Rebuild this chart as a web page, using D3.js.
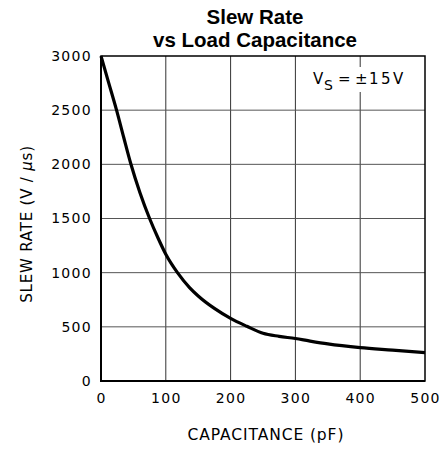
<!DOCTYPE html>
<html>
<head>
<meta charset="utf-8">
<script src="https://cdn.jsdelivr.net/npm/d3@7"></script>
<style>
  html, body { margin: 0; padding: 0; background: #fff; }
  svg { display: block; }
</style>
</head>
<body>
<svg id="chart" width="445" height="450"></svg>
<script>
// ---- data ----
const capacitance = [0, 12, 24, 35, 46, 60, 75, 88, 100, 118, 137, 150, 175, 200, 225, 250, 275, 300, 321, 350, 400, 450, 500];
const slewRate    = [3000, 2750, 2500, 2250, 2005, 1740, 1500, 1320, 1170, 1000, 860, 785, 670, 578, 505, 440, 412, 392, 370, 342, 308, 285, 262];
const xTicks = [0, 100, 200, 300, 400, 500];
const yTicks = [0, 500, 1000, 1500, 2000, 2500, 3000];
const titleLines = ["Slew Rate", "vs Load Capacitance"];
const xTitle = "CAPACITANCE (pF)";
const yTitleParts = ["SLEW RATE (V / ", "\u03BC", "s)"];

(function () {
const svg = d3.select("#chart");
const mLeft = 101, mRight = 425, mTop = 56, mBottom = 381;

const x = d3.scaleLinear().domain([0, 500]).range([mLeft, mRight]);
const y = d3.scaleLinear().domain([0, 3000]).range([mBottom, mTop]);

// title (one text element, two lines)
const title = svg.append("text")
  .attr("text-anchor", "middle")
  .attr("font-family", "'Liberation Sans', Arial, sans-serif")
  .attr("font-weight", "bold")
  .attr("font-size", 20.5)
  .attr("fill", "#000");
title.selectAll("tspan").data(titleLines).join("tspan")
  .attr("x", 255)
  .attr("y", (d, i) => 23.5 + i * 23)
  .text(d => d);

// grid
const grid = svg.append("g");
grid.selectAll("line.v").data(xTicks.slice(1, -1)).join("line")
  .attr("x1", d => x(d)).attr("x2", d => x(d))
  .attr("y1", mTop).attr("y2", mBottom)
  .attr("stroke", "#333").attr("stroke-width", 1);
grid.selectAll("line.h").data(yTicks.slice(1, -1)).join("line")
  .attr("x1", mLeft).attr("x2", mRight)
  .attr("y1", d => y(d)).attr("y2", d => y(d))
  .attr("stroke", "#555").attr("stroke-width", 1);

// annotation with white background
const ann = svg.append("g").attr("font-family", "'DejaVu Sans', sans-serif").attr("fill", "#000");
ann.append("rect").attr("x", 310).attr("y", 67).attr("width", 100).attr("height", 25).attr("fill", "#fff");
ann.append("text").attr("x", 313).attr("y", 84).attr("font-size", 15).text("V");
ann.append("text").attr("x", 324).attr("y", 90).attr("font-size", 14).text("S");
ann.append("text").attr("x", 338).attr("y", 84).attr("font-size", 15).text("=");
ann.append("text").attr("x", 355).attr("y", 84).attr("font-size", 15).text("\u00B1");
ann.append("text").attr("x", 369).attr("y", 84).attr("font-size", 15).attr("letter-spacing", 2.5).text("15V");

// axes
const xAxis = d3.axisBottom(x).tickValues(xTicks).tickSize(0).tickPadding(12).tickFormat(d3.format("d"));
const yAxis = d3.axisLeft(y).tickValues(yTicks).tickSize(0).tickPadding(9).tickFormat(d3.format("d"));

const gx = svg.append("g").attr("transform", `translate(0,${mBottom})`).call(xAxis);
const gy = svg.append("g").attr("transform", `translate(${mLeft},0)`).call(yAxis);
[gx, gy].forEach(g => {
  g.select(".domain").remove();
  g.selectAll("text")
    .attr("font-family", "'DejaVu Sans', sans-serif")
    .attr("font-size", 14)
    .attr("letter-spacing", 1.3)
    .attr("fill", "#000");
});
gx.selectAll("text").attr("dy", "0.71em");

// frame
svg.append("rect")
  .attr("x", mLeft).attr("y", mTop)
  .attr("width", mRight - mLeft).attr("height", mBottom - mTop)
  .attr("fill", "none").attr("stroke", "#000").attr("stroke-width", 1.5);
svg.append("path")
  .attr("d", `M${mLeft},${mTop}V${mBottom}H${mRight}`)
  .attr("fill", "none").attr("stroke", "#000").attr("stroke-width", 2);

// curve
const data = capacitance.map((c, i) => [c, slewRate[i]]);
svg.append("path")
  .datum(data)
  .attr("fill", "none")
  .attr("stroke", "#000")
  .attr("stroke-width", 3.2)
  .attr("stroke-linejoin", "round")
  .attr("d", d3.line().x(d => x(d[0])).y(d => y(d[1])).curve(d3.curveMonotoneX));

// axis titles
svg.append("text")
  .attr("x", 266).attr("y", 440)
  .attr("text-anchor", "middle")
  .attr("font-family", "'DejaVu Sans', sans-serif")
  .attr("font-size", 15.5)
  .attr("letter-spacing", 0.9)
  .attr("fill", "#000")
  .text(xTitle);

const yt = svg.append("text")
  .attr("transform", `translate(32,224) rotate(-90)`)
  .attr("text-anchor", "middle")
  .attr("font-family", "'DejaVu Sans', sans-serif")
  .attr("font-size", 15)
  .attr("letter-spacing", 0.8)
  .attr("fill", "#000");
yt.selectAll("tspan").data(yTitleParts).join("tspan")
  .attr("font-style", (d, i) => i === 1 ? "italic" : null)
  .text(d => d);
})();
</script>
</body>
</html>
